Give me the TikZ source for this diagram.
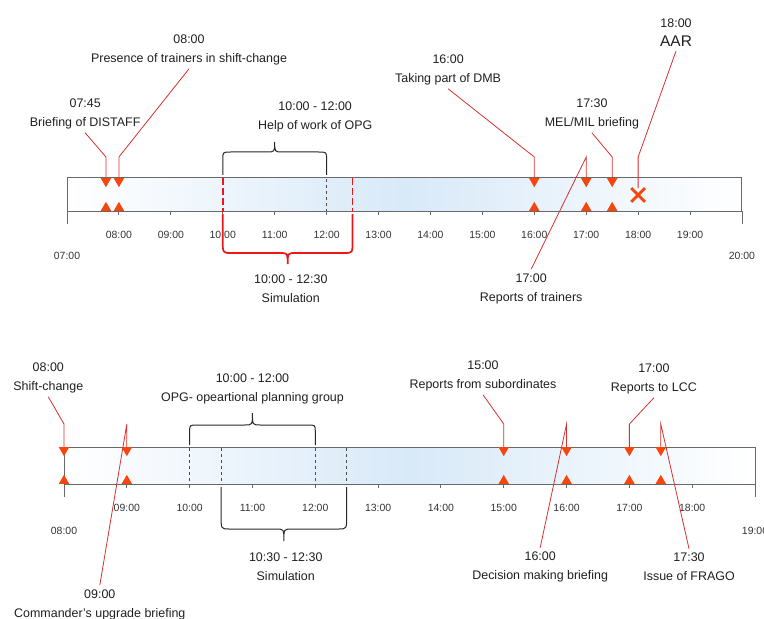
\documentclass[tikz,border=0pt]{standalone}
\usepackage{fontspec}
\setmainfont{Liberation Sans}
\usetikzlibrary{shapes.geometric,shapes.misc}
\definecolor{markorange}{RGB}{246,70,14}
\definecolor{leadred}{RGB}{216,48,48}
\definecolor{barblue}{RGB}{216,233,248}
\definecolor{bargray}{RGB}{105,105,105}
\definecolor{simred}{RGB}{236,22,26}
\tikzset{
  timebar/.style={
    draw=bargray, line width=1bp, left color=white, right color=white, middle color=barblue
  },
  hour tick/.style={draw=bargray, line width=0.9bp},
  hour label/.style={font=\fontsize{10.5}{12}\selectfont, text=black!80, inner sep=0pt},
  event label/.style={
    align=center, font=\fontsize{12.5}{19}\selectfont, text=black!88, inner sep=4bp
  },
  leader/.style={draw=leadred, line width=0.8bp},
  down mark/.style={
    regular polygon, regular polygon sides=3, shape border rotate=180,
    fill=markorange, inner sep=0pt, minimum size=12bp, anchor=north
  },
  up mark/.style={
    regular polygon, regular polygon sides=3,
    fill=markorange, inner sep=0pt, minimum size=12bp, anchor=south
  },
  black bracket/.style={draw=black!85, line width=1bp},
  red bracket/.style={draw=simred, line width=1.7bp},
  span line/.style={dashed, draw=black!70, line width=0.8bp},
  sim line/.style={draw=simred, line width=1.7bp, dash pattern=on 7bp off 3bp}
}
% bracket: style, left x, right x, leg end y, flat y, tip y, corner
\newcommand{\tlbrace}[7]{%
  \draw[#1] (#2,#4) -- (#2,{#5+(#4-#5)/3}) .. controls (#2,#5) .. ({#2+#7},#5)
    -- ({(#2+#3)/2-#7},#5) .. controls ({(#2+#3)/2},#5) .. ({(#2+#3)/2},#6)
    .. controls ({(#2+#3)/2},#5) .. ({(#2+#3)/2+#7},#5)
    -- ({#3-#7},#5) .. controls (#3,#5) .. (#3,{#5+(#4-#5)/3}) -- (#3,#4);
}

\begin{document}
\begin{tikzpicture}[x=1bp, y=-1bp]
\useasboundingbox (0,0) rectangle (764,619);

% ------------------------------------------------
% upper timeline: 07:00 - 20:00
% ------------------------------------------------
\begin{scope}[x=51.92bp, xshift={67bp-7*51.92bp}]
  \draw[timebar] (7,178) rectangle (20,211);
  \foreach \h in {8,...,19} {
    \draw[hour tick] (\h,211) -- (\h,215);
    \node[hour label] (tH\h) at (\h,235) {\ifnum\h<10 0\fi\h:00};
  }
  \draw[hour tick] (7,211) -- (7,224);
  \draw[hour tick] (20,211) -- (20,224);
  \node[hour label] (tH7)  at (7,256)  {07:00};
  \node[hour label] (tH20) at (20,256) {20:00};

  % spans
  \draw[sim line]  (10,178) -- (10,212);
  \draw[sim line]  (12.5,178) -- (12.5,212);
  \draw[span line] (12,179) -- (12,211);
  \tlbrace{black bracket}{10}{12}{175}{152}{142}{0.155}
  \tlbrace{red bracket}{10}{12.5}{214}{253}{264}{0.155}
  \node[event label] (tOPG) at (11.78,117) {10:00 - 12:00\\Help of work of OPG};
  \node[event label] (tSim) at (11.31,289) {10:00 - 12:30\\Simulation};

  % marks
  \foreach \t/\n in {7.75/a, 8/b, 16/c, 17/d, 17.5/e} {
    \node[down mark] (tD\n) at (\t,178) {};
    \node[up mark]   (tU\n) at (\t,211) {};
  }
  \node[cross out, draw=markorange, line width=2.8bp, minimum size=11bp, inner sep=0pt]
    (tX) at (18,195) {};

  % events
  \node[event label] (ta) at (7.35,113.5) {07:45\\Briefing of DISTAFF};
  \node[event label] (tb) at (9.35,49.5) {08:00\\Presence of trainers in shift-change};
  \node[event label] (tc) at (14.34,69.5) {16:00\\Taking part of DMB};
  \node[event label] (td) at (15.94,288.5) {17:00\\Reports of trainers};
  \node[event label] (te) at (17.11,113.5) {17:30\\MEL/MIL briefing};
  \node[event label] (tf) at (18.73,33)
    {18:00\\{\fontsize{15.5}{19}\selectfont AAR}};

  \coordinate (tka) at (7.75,157);
  \coordinate (tkb) at (8,157);
  \coordinate (tkc) at (16,157);
  \coordinate (tkd) at (17,157);
  \coordinate (tke) at (17.5,157);
  \coordinate (tkf) at (18,157);
  \draw[leader] (ta.south) -- (tka) -- (tDa.north);
  \draw[leader] (tb.south) -- (tkb) -- (tDb.north);
  \draw[leader] (tc.south) -- (tkc) -- (tDc.north);
  \draw[leader] (td.north) -- (tkd) -- (tDd.north);
  \draw[leader] (te.south) -- (tke) -- (tDe.north);
  \draw[leader] (tf.south) -- (tkf) -- (tX.north);
\end{scope}

% ------------------------------------------------
% lower timeline: 08:00 - 19:00
% ------------------------------------------------
\begin{scope}[x=62.82bp, xshift={64bp-8*62.82bp}]
  \draw[timebar] (8,447) rectangle (19,484);
  \foreach \h in {9,...,18} {
    \draw[hour tick] (\h,484) -- (\h,488);
    \node[hour label] (bH\h) at (\h,508) {\ifnum\h<10 0\fi\h:00};
  }
  \draw[hour tick] (8,484) -- (8,497);
  \draw[hour tick] (19,484) -- (19,497);
  \node[hour label] (bH8)  at (8,531)  {08:00};
  \node[hour label] (bH19) at (19,531) {19:00};

  % spans
  \foreach \t in {10, 10.5, 12, 12.5}
    \draw[span line] (\t,448) -- (\t,484);
  \tlbrace{black bracket}{10}{12}{445}{425}{413}{0.127}
  \tlbrace{black bracket}{10.5}{12.5}{487}{529}{541}{0.127}
  \node[event label] (bOPG) at (11,388.5) {10:00 - 12:00\\OPG- opeartional planning group};
  \node[event label] (bSim) at (11.53,567) {10:30 - 12:30\\Simulation};

  % marks
  \foreach \t/\n in {8/a, 9/b, 15/c, 16/d, 17/e, 17.5/f} {
    \node[down mark] (bD\n) at (\t,447) {};
    \node[up mark]   (bU\n) at (\t,484) {};
  }

  % events
  \node[event label] (ba) at (7.75,377.5) {08:00\\Shift-change};
  \node[event label] (bb) at (8.57,604.5) {09:00\\Commander’s upgrade briefing};
  \node[event label] (bc) at (14.67,375.5) {15:00\\Reports from subordinates};
  \node[event label] (bd) at (15.58,567) {16:00\\Decision making briefing};
  \node[event label] (be) at (17.39,378.5) {17:00\\Reports to LCC};
  \node[event label] (bf) at (17.95,567) {17:30\\Issue of FRAGO};

  \coordinate (bka) at (8,424);
  \coordinate (bkb) at (9,424);
  \coordinate (bkc) at (15,424);
  \coordinate (bkd) at (16,424);
  \coordinate (bke) at (17,424);
  \coordinate (bkf) at (17.5,424);
  \draw[leader] (ba.south) -- (bka) -- (bDa.north);
  \draw[leader] (bb.north) -- (bkb) -- (bDb.north);
  \draw[leader] (bc.south) -- (bkc) -- (bDc.north);
  \draw[leader] (bd.north) -- (bkd) -- (bDd.north);
  \draw[leader] (be.south) -- (bke) -- (bDe.north);
  \draw[leader] (bf.north) -- (bkf) -- (bDf.north);
\end{scope}
\end{tikzpicture}
\end{document}
